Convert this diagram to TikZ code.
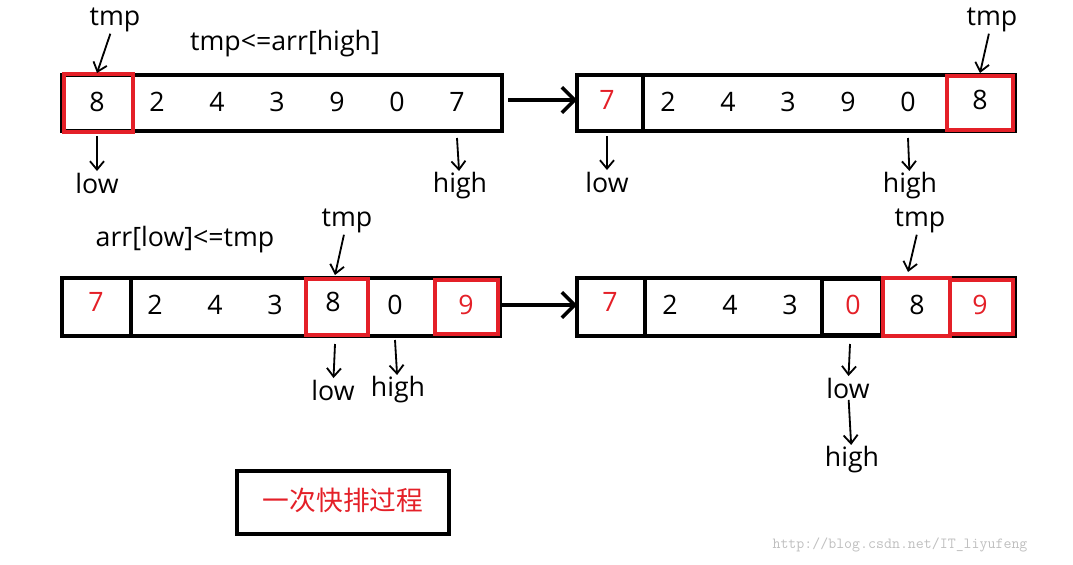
\documentclass[tikz,border=0pt]{standalone}
\usepackage{fontspec}
\setmainfont{Open Sans}
\newfontfamily\cjk{Noto Sans CJK SC}
\usetikzlibrary{positioning,arrows.meta}
\definecolor{boxred}{RGB}{228,32,40}

\begin{document}
\begin{tikzpicture}[x=0.025cm, y=-0.025cm,
  arrbox/.style={draw, line width=3pt},
  redbox/.style={draw=boxred, line width=3pt},
  cell/.style={font=\fontsize{19}{22}\selectfont, inner sep=0pt},
  lbl/.style={font=\fontsize{19}{22}\selectfont, inner sep=1pt},
  pointer/.style={-{Straight Barb[length=6pt,width=10pt]}, line width=1.3pt},
  flow/.style={-{Straight Barb[length=9pt,width=18pt]}, line width=2.5pt}
]
\useasboundingbox (0,0) rectangle (1073,565);

% Top left: before
\draw[arrbox] (62,75) rectangle (502,131);
\draw[redbox] (64,74) rectangle (133,132);
\node[cell] (a1) at (97,102) {8};
\foreach \v/\x [count=\i from 2] in {2/157,4/217,3/277,9/337,0/397,7/457}
  \node[cell] (a\i) at (\x,102) {\v};
\node[lbl] (tmpA) at (115,20) {tmp};
\node[lbl] at (285,44) {tmp<=arr[high]};
\node[lbl] (lowA) at (97,183) {low};
\node[lbl] (highA) at (460,186) {high};
\coordinate (lowAtop) at (97,136);
\coordinate (highAtop) at (457,138);
\coordinate (tmpAend) at (97,73);
\draw[pointer] (tmpA) -- (tmpAend);
\draw[pointer] (lowAtop) -- (lowA);
\draw[pointer] (highAtop) -- (highA);

% Top right: after
\draw[arrbox] (577,75) rectangle (1015,131);
\draw[arrbox] (577,75) rectangle (643,131);
\draw[redbox] (947,76) rectangle (1013,130);
\node[cell, text=boxred] (b1) at (607,100) {7};
\foreach \v/\x [count=\i from 2] in {2/668,4/728,3/788,9/848,0/908}
  \node[cell] (b\i) at (\x,102) {\v};
\node[cell] (b7) at (980,100) {8};
\node[lbl] (tmpB) at (992,20) {tmp};
\node[lbl] (lowB) at (607,182) {low};
\node[lbl] (highB) at (910,186) {high};
\coordinate (lowBtop) at (607,136);
\coordinate (highBtop) at (908,138);
\coordinate (tmpBend) at (980,73);
\draw[pointer] (tmpB) -- (tmpBend);
\draw[pointer] (lowBtop) -- (lowB);
\draw[pointer] (highBtop) -- (highB);

\coordinate (flowAs) at (508,100);
\coordinate (flowAe) at (577,100);
\draw[flow] (flowAs) -- (flowAe);

% Bottom left
\draw[arrbox] (62,278) rectangle (500,336);
\draw[arrbox] (62,278) rectangle (131,336);
\draw[redbox] (306,279) rectangle (368,335);
\draw[redbox] (435,280) rectangle (498,334);
\node[cell, text=boxred] (c1) at (96,302) {7};
\foreach \v/\x [count=\i from 2] in {2/155,4/215,3/275}
  \node[cell] (c\i) at (\x,305) {\v};
\node[cell] (c5) at (333,302) {8};
\node[cell] (c6) at (395,305) {0};
\node[cell, text=boxred] (c7) at (466,305) {9};
\node[lbl] (tmpC) at (347,221) {tmp};
\node[lbl] at (185,240) {arr[low]<=tmp};
\node[lbl] (lowC) at (333,390) {low};
\node[lbl] (highC) at (398,390) {high};
\coordinate (lowCtop) at (335,344);
\coordinate (highCtop) at (395,340);
\coordinate (tmpCend) at (335,275);
\draw[pointer] (tmpC) -- (tmpCend);
\draw[pointer] (lowCtop) -- (lowC);
\draw[pointer] (highCtop) -- (highC);

% Bottom right
\draw[arrbox] (577,278) rectangle (1015,336);
\draw[arrbox] (577,278) rectangle (645,336);
\draw[arrbox] (822,279) rectangle (882,335);
\draw[redbox] (883,278) rectangle (950,336);
\draw[redbox] (950,280) rectangle (1013,334);
\node[cell, text=boxred] (d1) at (610,302) {7};
\foreach \v/\x [count=\i from 2] in {2/670,4/730,3/790}
  \node[cell] (d\i) at (\x,305) {\v};
\node[cell, text=boxred] (d5) at (853,305) {0};
\node[cell] (d6) at (917,305) {8};
\node[cell, text=boxred] (d7) at (980,305) {9};
\node[lbl] (tmpD) at (920,221) {tmp};
\node[lbl] (lowD) at (848,388) {low};
\node[lbl] (highD) at (852,460) {high};
\coordinate (lowDtop) at (850,344);
\coordinate (tmpDend) at (908,272);
\draw[pointer] (tmpD) -- (tmpDend);
\draw[pointer] (lowDtop) -- (lowD);
\draw[pointer] (lowD) -- (highD);

\coordinate (flowBs) at (500,305);
\coordinate (flowBe) at (577,305);
\draw[flow] (flowBs) -- (flowBe);

% Caption
\draw[arrbox] (237,471) rectangle (449,534);
\node[lbl, text=boxred, font=\cjk\fontsize{19}{22}\selectfont] (title) at (343,500) {一次快排过程};
\node[text=black!25, font=\ttfamily\fontsize{11}{13}\selectfont] (mark) at (900,545) {http://blog.csdn.net/IT\_liyufeng};
\end{tikzpicture}
\end{document}
